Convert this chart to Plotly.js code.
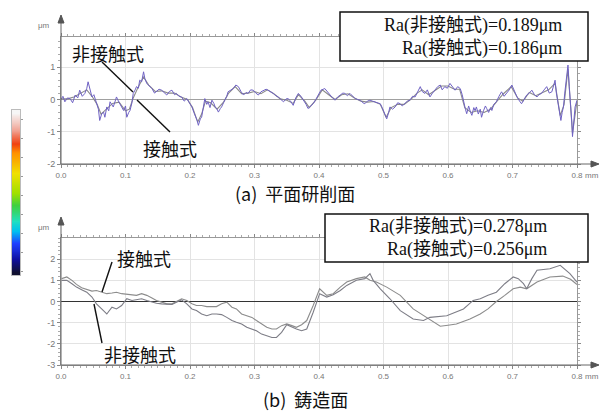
<!DOCTYPE html>
<html>
<head>
<meta charset="utf-8">
<script src="https://cdn.plot.ly/plotly-3.0.1.min.js"></script>
<style>html,body{margin:0;padding:0;background:#fff;}#chart{width:606px;height:414px;}</style>
</head>
<body>
<div id="chart"></div>
<script>
// ---------- DATA ----------
// (a) 平面研削面 : 非接触式 (purple) profile, x in mm, z in µm
const topNonContactX = [0.000,0.003,0.006,0.010,0.014,0.018,0.022,0.026,0.029,0.033,0.037,0.040,0.042,0.045,0.048,0.051,0.055,0.058,0.060,0.063,0.066,0.068,0.071,0.074,0.076,0.079,0.081,0.084,0.086,0.089,0.091,0.094,0.097,0.100,0.102,0.105,0.107,0.110,0.112,0.115,0.117,0.120,0.122,0.125,0.128,0.130,0.133,0.137,0.141,0.145,0.148,0.152,0.156,0.160,0.164,0.168,0.172,0.176,0.179,0.183,0.187,0.191,0.195,0.199,0.203,0.206,0.208,0.211,0.213,0.216,0.218,0.221,0.223,0.226,0.228,0.231,0.234,0.237,0.239,0.242,0.244,0.247,0.249,0.252,0.254,0.257,0.259,0.263,0.267,0.271,0.275,0.279,0.283,0.287,0.290,0.294,0.298,0.302,0.306,0.310,0.314,0.318,0.321,0.325,0.329,0.333,0.337,0.341,0.345,0.349,0.352,0.356,0.360,0.364,0.368,0.372,0.376,0.380,0.383,0.387,0.391,0.395,0.399,0.403,0.409,0.417,0.421,0.425,0.429,0.433,0.437,0.440,0.444,0.448,0.452,0.456,0.460,0.464,0.468,0.471,0.475,0.479,0.483,0.487,0.491,0.495,0.498,0.500,0.503,0.505,0.508,0.510,0.514,0.518,0.522,0.526,0.529,0.533,0.537,0.541,0.545,0.549,0.553,0.557,0.560,0.564,0.568,0.572,0.576,0.580,0.584,0.588,0.591,0.595,0.599,0.603,0.607,0.611,0.615,0.619,0.622,0.624,0.627,0.629,0.632,0.635,0.637,0.640,0.642,0.644,0.647,0.650,0.652,0.655,0.658,0.660,0.663,0.666,0.668,0.671,0.675,0.679,0.683,0.687,0.691,0.695,0.699,0.703,0.707,0.711,0.714,0.718,0.722,0.726,0.730,0.734,0.738,0.741,0.745,0.749,0.753,0.757,0.761,0.764,0.766,0.768,0.771,0.773,0.775,0.777,0.779,0.781,0.784,0.786,0.788,0.790,0.792,0.793,0.795,0.797,0.800];
const topNonContactZ = [0.00,0.10,-0.07,0.05,0.03,-0.10,0.14,0.05,0.29,0.10,0.19,0.35,0.55,0.30,0.08,0.15,-0.07,-0.30,-0.65,-0.45,-0.39,-0.55,-0.23,-0.35,-0.07,-0.15,-0.23,-0.05,0.08,-0.05,-0.13,-0.25,-0.34,-0.20,-0.55,-0.40,-0.34,-0.10,0.19,0.30,0.40,0.35,0.60,0.55,0.86,0.65,0.50,0.42,0.34,0.20,0.24,0.32,0.29,0.20,0.14,0.25,0.29,0.15,0.19,0.10,0.08,-0.05,0.03,-0.10,-0.23,-0.40,-0.49,-0.65,-0.80,-0.60,-0.55,-0.20,0.03,-0.15,-0.07,-0.25,-0.02,-0.12,-0.23,-0.30,-0.39,-0.28,-0.23,-0.10,-0.02,0.10,0.24,0.30,0.34,0.45,0.40,0.25,0.14,0.22,0.19,0.30,0.29,0.20,0.14,0.24,0.29,0.32,0.29,0.25,0.19,0.12,0.08,0.00,-0.07,0.02,0.03,-0.05,-0.18,0.05,0.19,0.10,-0.02,-0.15,-0.28,-0.20,-0.13,0.00,0.14,0.29,0.34,0.14,0.05,-0.02,0.08,0.14,0.20,0.19,0.12,0.19,0.10,0.03,0.00,-0.02,-0.10,-0.13,-0.05,-0.02,-0.05,-0.07,-0.10,-0.13,-0.25,-0.34,-0.50,-0.60,-0.40,-0.23,-0.30,-0.23,-0.10,-0.13,-0.20,-0.13,-0.05,-0.02,0.10,0.08,0.25,0.40,0.25,0.19,0.30,0.08,0.20,0.29,0.40,0.45,0.30,0.40,0.35,0.50,0.38,0.29,0.40,0.34,0.15,-0.07,-0.30,-0.44,-0.20,-0.40,-0.49,-0.25,-0.35,-0.23,-0.45,-0.30,-0.55,-0.35,-0.20,-0.28,-0.40,-0.25,-0.34,-0.15,-0.07,0.10,0.24,0.10,0.19,0.30,0.45,0.25,0.08,-0.05,-0.13,0.00,0.14,0.20,0.29,0.15,0.08,0.15,0.19,0.30,0.40,0.20,0.24,0.45,0.60,0.20,-0.23,-0.45,-0.65,-0.40,-0.23,0.20,0.70,1.07,0.40,-0.10,-0.70,-1.15,-0.70,-0.23,-0.02];

// (a) 平面研削面 : 接触式 (grey) profile
const topContactX = [0.000,0.010,0.020,0.030,0.040,0.048,0.056,0.062,0.070,0.080,0.090,0.100,0.106,0.112,0.120,0.128,0.136,0.146,0.156,0.166,0.176,0.186,0.196,0.204,0.212,0.218,0.224,0.232,0.242,0.252,0.260,0.270,0.280,0.290,0.300,0.310,0.320,0.330,0.340,0.350,0.360,0.368,0.378,0.385,0.395,0.405,0.415,0.425,0.435,0.445,0.455,0.465,0.475,0.485,0.495,0.504,0.512,0.522,0.532,0.542,0.552,0.560,0.570,0.580,0.590,0.600,0.610,0.618,0.626,0.636,0.646,0.656,0.666,0.676,0.686,0.698,0.708,0.716,0.726,0.736,0.746,0.756,0.766,0.774,0.780,0.786,0.793,0.800];
const topContactZ = [0.02,0.02,0.08,0.20,0.30,0.10,-0.15,-0.45,-0.30,-0.12,-0.08,-0.35,-0.30,0.05,0.40,0.70,0.45,0.25,0.27,0.20,0.20,0.08,0.00,-0.25,-0.70,-0.45,-0.05,-0.10,-0.30,-0.08,0.20,0.40,0.18,0.20,0.25,0.18,0.30,0.18,0.02,-0.02,-0.12,0.15,-0.05,-0.25,-0.02,0.30,0.15,0.00,0.15,0.18,0.05,-0.05,-0.08,-0.06,-0.15,-0.55,-0.25,-0.15,-0.15,0.00,0.20,0.30,0.15,0.28,0.42,0.42,0.32,0.32,-0.25,-0.40,-0.35,-0.40,-0.30,-0.05,0.18,0.40,0.05,-0.05,0.22,0.12,0.22,0.30,0.50,-0.50,-0.15,0.95,-1.05,-0.05];

// (b) 鋳造面 : 接触式 profile
const botContactX = [0.001,0.009,0.017,0.024,0.032,0.040,0.048,0.055,0.063,0.071,0.079,0.086,0.094,0.102,0.110,0.117,0.125,0.133,0.141,0.148,0.156,0.164,0.172,0.179,0.187,0.195,0.203,0.210,0.218,0.226,0.234,0.241,0.249,0.257,0.265,0.272,0.280,0.288,0.296,0.303,0.311,0.319,0.327,0.334,0.342,0.350,0.358,0.365,0.373,0.381,0.391,0.401,0.412,0.422,0.433,0.443,0.458,0.471,0.479,0.489,0.505,0.526,0.546,0.562,0.577,0.588,0.600,0.613,0.634,0.650,0.662,0.675,0.688,0.701,0.712,0.722,0.738,0.758,0.778,0.790,0.800];
const botContactZ = [1.08,1.16,1.00,0.81,0.65,0.56,0.49,0.52,0.44,0.37,0.40,0.44,0.37,0.33,0.29,0.29,0.37,0.29,0.17,0.05,-0.03,-0.11,-0.11,0.02,0.13,0.05,-0.11,-0.19,-0.19,-0.24,-0.24,-0.24,-0.11,-0.03,-0.27,-0.35,-0.59,-0.67,-0.75,-0.90,-1.06,-1.22,-1.30,-1.30,-1.14,-1.06,-1.14,-1.22,-1.10,-0.90,-0.19,0.60,0.29,0.37,0.68,0.92,1.08,1.16,1.00,0.92,0.68,0.29,-0.35,-0.67,-0.98,-1.17,-1.12,-1.06,-0.83,-0.59,-0.35,0.00,0.29,0.60,0.68,0.60,0.92,1.16,1.20,1.05,0.80];

// (b) 鋳造面 : 非接触式 profile
const botNonContactX = [0.001,0.009,0.017,0.024,0.032,0.040,0.048,0.055,0.063,0.071,0.079,0.086,0.094,0.102,0.110,0.117,0.125,0.133,0.141,0.148,0.156,0.164,0.172,0.179,0.187,0.195,0.203,0.210,0.218,0.226,0.234,0.241,0.249,0.257,0.265,0.272,0.280,0.288,0.296,0.303,0.311,0.319,0.327,0.334,0.342,0.350,0.358,0.365,0.373,0.381,0.391,0.401,0.412,0.422,0.433,0.443,0.458,0.471,0.479,0.484,0.495,0.510,0.526,0.546,0.562,0.572,0.598,0.624,0.639,0.650,0.662,0.675,0.688,0.701,0.709,0.717,0.722,0.730,0.738,0.748,0.758,0.774,0.789,0.800];
const botNonContactZ = [1.00,1.00,0.84,0.68,0.56,0.44,0.21,-0.11,-0.35,-0.59,-0.27,-0.35,-0.19,0.13,0.05,0.08,0.13,0.05,-0.03,-0.08,-0.11,-0.14,-0.14,-0.03,0.08,-0.11,-0.35,-0.43,-0.59,-0.67,-0.59,-0.59,-0.62,-0.75,-0.90,-0.98,-1.06,-1.22,-1.30,-1.38,-1.54,-1.62,-1.70,-1.70,-1.46,-1.10,-1.22,-1.30,-1.38,-1.30,-0.51,0.37,0.21,0.32,0.52,0.76,1.00,1.08,1.32,1.00,0.60,0.13,-0.43,-0.83,-0.90,-0.75,-0.67,-0.35,0.05,0.13,0.29,0.44,0.84,1.16,1.08,0.84,0.60,1.08,1.48,1.52,1.55,1.71,1.32,0.92];

// tick labels
const xTickVals = [0,0.1,0.2,0.3,0.4,0.5,0.6,0.7,0.8];
const xTickText = ['0.0','0.1','0.2','0.3','0.4','0.5','0.6','0.7','0.8'];
const topYTickVals = [-2,-1,0,1];
const topYTickText = ['-2','-1','0','1'];
const botYTickVals = [-3,-2,-1,0,1,2];
const botYTickText = ['-3','-2','-1','0','1','2'];
const raTop = ['Ra(非接触式)=0.189μm','Ra(接触式)=0.186μm'];
const raBot = ['Ra(非接触式)=0.278μm','Ra(接触式)=0.256μm'];
const colorbarLevels = [0,0.04,0.08,0.12,0.16,0.2,0.24,0.28,0.32,0.36,0.4,0.44,0.48,0.52,0.56,0.6,0.64,0.68,0.72,0.76,0.8,0.84,0.88,0.92,0.96,1];

// ---------- LAYOUT HELPERS ----------
const W = 606, H = 414;
const px = x => x / W;
const py = y => 1 - y / H;

const tickFont = {family: 'Liberation Sans, Arial, sans-serif', size: 8, color: '#777'};
const jpFont = {family: 'Noto Sans CJK JP, sans-serif', size: 18, color: '#111'};
const raFont = {family: 'Liberation Serif, Noto Sans CJK JP, serif', size: 18, color: '#111'};

function xAxis(anchor) {
  return {
    domain: [px(61), px(577)], range: [0, 0.8], anchor: anchor,
    tickmode: 'array', tickvals: xTickVals, ticktext: xTickText,
    showgrid: true, gridcolor: '#e3e3e3', gridwidth: 1,
    showline: true, linecolor: '#999', linewidth: 1, mirror: 'allticks',
    ticks: 'outside', ticklen: 3, tickcolor: '#888',
    minor: {dtick: 0.01, ticks: 'outside', ticklen: 2, tickcolor: '#aaa', showgrid: false},
    tickfont: tickFont, zeroline: false, fixedrange: true
  };
}
function yAxis(anchor, dom, rng, tv, tt, zc) {
  return {
    domain: dom, range: rng, anchor: anchor,
    tickmode: 'array', tickvals: tv, ticktext: tt,
    showgrid: true, gridcolor: '#e3e3e3', gridwidth: 1,
    showline: true, linecolor: '#999', linewidth: 1, mirror: 'allticks',
    ticks: 'outside', ticklen: 3, tickcolor: '#888',
    minor: {dtick: 0.2, ticks: 'outside', ticklen: 2, tickcolor: '#aaa', showgrid: false},
    tickfont: {family: tickFont.family, size: 9, color: '#777'},
    zeroline: true, zerolinecolor: zc, zerolinewidth: 1, fixedrange: true
  };
}

const traces = [
  {x: topContactX, y: topContactZ, xaxis: 'x', yaxis: 'y', type: 'scatter', mode: 'lines',
   line: {color: '#8a8a8a', width: 1.1}, name: '接触式'},
  {x: topNonContactX, y: topNonContactZ, xaxis: 'x', yaxis: 'y', type: 'scatter', mode: 'lines',
   line: {color: '#6f62c4', width: 1}, name: '非接触式'},
  {x: botContactX, y: botContactZ, xaxis: 'x2', yaxis: 'y2', type: 'scatter', mode: 'lines',
   line: {color: '#8c8c8c', width: 1.1}, name: '接触式'},
  {x: botNonContactX, y: botNonContactZ, xaxis: 'x2', yaxis: 'y2', type: 'scatter', mode: 'lines',
   line: {color: '#7d7d86', width: 1.1}, name: '非接触式'},
  {z: colorbarLevels.map(v => [v]), xaxis: 'x3', yaxis: 'y3', type: 'heatmap', showscale: false,
   hoverinfo: 'skip', zsmooth: 'best',
   colorscale: [[0,'#101030'],[0.08,'#1010a0'],[0.18,'#2040ff'],[0.26,'#00c0f0'],[0.32,'#20e0c0'],
                [0.42,'#40d040'],[0.5,'#a0e000'],[0.62,'#f0e000'],[0.75,'#ff9000'],[0.81,'#f04010'],
                [0.89,'#f0a090'],[1,'#f6f6f6']]}
];

function line(x0, y0, x1, y1, color, width, dash) {
  return {type: 'line', xref: 'paper', yref: 'paper', x0: px(x0), y0: py(y0), x1: px(x1), y1: py(y1),
          line: {color: color, width: width, dash: dash || 'solid'}};
}
function tri(d) {
  return {type: 'path', xref: 'paper', yref: 'paper', path: d, fillcolor: '#555', line: {color: '#555', width: 1}};
}
function pathPx(points) {
  return 'M ' + points.map(p => px(p[0]) + ' ' + py(p[1])).join(' L ') + ' Z';
}

const shapes = [
  // top chart arrows
  line(61, 164, 593, 164, '#666', 1), tri(pathPx([[591,161],[599,164],[591,167]])),
  line(61, 164, 61, 22, '#666', 1), tri(pathPx([[58,23],[61,15],[64,23]])),
  // bottom chart arrows
  line(61, 365, 593, 365, '#666', 1), tri(pathPx([[591,362],[599,365],[591,368]])),
  line(61, 365, 61, 224, '#666', 1), tri(pathPx([[58,225],[61,217],[64,225]])),
  // leader lines
  line(102, 62, 133, 92, '#111', 1.4), line(137, 100, 170, 132, '#111', 1.4),
  line(112, 262, 102, 292, '#111', 1.4), line(94, 304, 102, 343, '#111', 1.4),
  // Ra boxes
  {type: 'rect', xref: 'paper', yref: 'paper', x0: px(340), x1: px(588), y0: py(61), y1: py(12),
   line: {color: '#111', width: 1.5}, fillcolor: '#fff'},
  {type: 'rect', xref: 'paper', yref: 'paper', x0: px(325), x1: px(588), y0: py(262), y1: py(214),
   line: {color: '#111', width: 1.5}, fillcolor: '#fff'}
];

function ann(text, x, y, font, extra) {
  return Object.assign({text: text, x: px(x), y: py(y), xref: 'paper', yref: 'paper',
                        showarrow: false, font: font, xanchor: 'center', yanchor: 'middle'}, extra || {});
}
const smallGrey = {family: 'Liberation Sans, Arial, sans-serif', size: 8, color: '#777'};

const annotations = [
  ann('非接触式', 108, 53, jpFont),
  ann('接触式', 170, 148, jpFont),
  ann('接触式', 144, 258, jpFont),
  ann('非接触式', 140, 354, jpFont),
  ann(raTop.join('<br>'), 564, 37, raFont, {xanchor: 'right', align: 'right'}),
  ann(raBot.join('<br>'), 549, 238, raFont, {xanchor: 'right', align: 'right'}),
  ann('(a)  平面研削面', 295, 193, {family: 'Noto Sans CJK JP, sans-serif', size: 18, color: '#111'}),
  ann('(b)  鋳造面', 305, 399, {family: 'Noto Sans CJK JP, sans-serif', size: 18, color: '#111'}),
  ann('μm', 44, 25, smallGrey), ann('μm', 44, 227, smallGrey),
  ann('mm', 592, 175, smallGrey), ann('mm', 592, 376, smallGrey)
];

const layout = {
  width: W, height: H, margin: {l: 0, r: 0, t: 0, b: 0, pad: 0},
  paper_bgcolor: '#fff', plot_bgcolor: '#fff', showlegend: false,
  xaxis: xAxis('y'),
  yaxis: yAxis('x', [py(164), py(37)], [-2, 1.94], topYTickVals, topYTickText, '#a0a0a0'),
  xaxis2: xAxis('y2'),
  yaxis2: yAxis('x2', [py(365), py(238)], [-3, 3], botYTickVals, botYTickText, '#333'),
  xaxis3: {domain: [px(12), px(20)], anchor: 'y3', showticklabels: false, ticks: '', showgrid: false,
           zeroline: false, showline: true, linecolor: '#bbb', mirror: true, fixedrange: true},
  yaxis3: {domain: [py(275), py(110)], anchor: 'x3', side: 'right', showticklabels: false,
           ticks: 'outside', ticklen: 2, tickcolor: '#999', dtick: 3, showgrid: false,
           zeroline: false, showline: true, linecolor: '#bbb', mirror: true, fixedrange: true},
  shapes: shapes,
  annotations: annotations
};

Plotly.newPlot('chart', traces, layout, {displayModeBar: false, staticPlot: true});
</script>
</body>
</html>
